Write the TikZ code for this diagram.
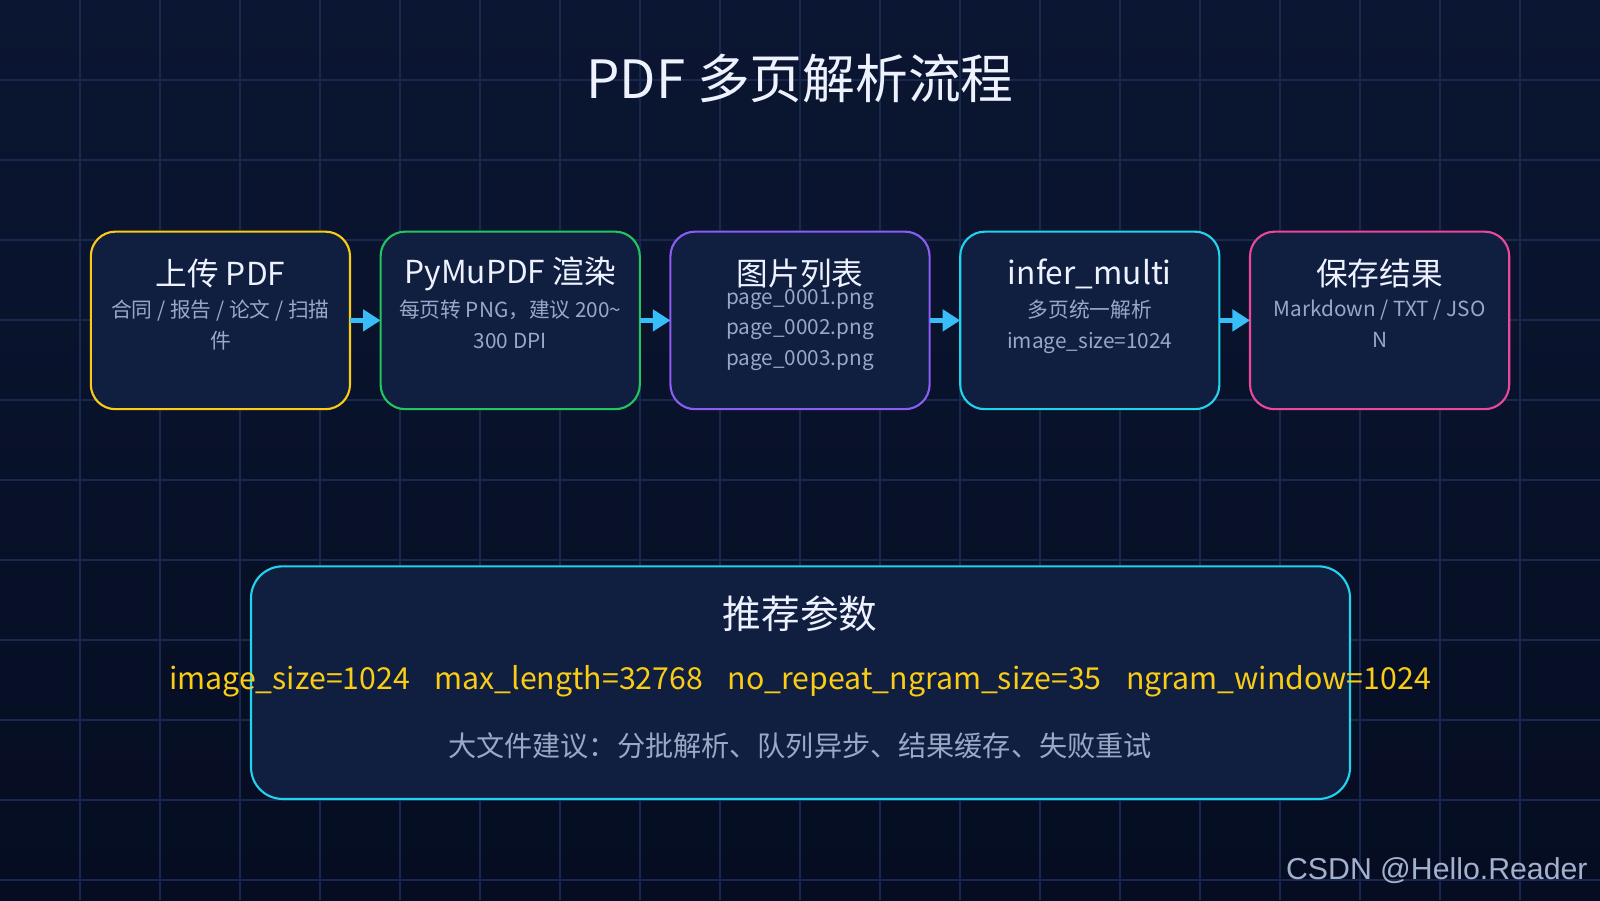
\documentclass[tikz,border=0pt]{standalone}
\usepackage{fontspec}
\setmainfont{Noto Sans CJK SC}
\newfontfamily\wmfont{Liberation Sans}
\usetikzlibrary{arrows.meta}
\definecolor{bgtop}{HTML}{0B1632}
\definecolor{bgbot}{HTML}{060D22}
\definecolor{gridc}{HTML}{17294F}
\definecolor{boxfill}{HTML}{101E40}
\definecolor{cy}{HTML}{FACC15}
\definecolor{cg}{HTML}{22C55E}
\definecolor{cp}{HTML}{8B5CF6}
\definecolor{cc}{HTML}{22D3EE}
\definecolor{cpk}{HTML}{EC4899}
\definecolor{ttl}{HTML}{EEF2FF}
\definecolor{sub}{HTML}{9AA8C7}
\definecolor{arr}{HTML}{38BDF8}
\begin{document}
\begin{tikzpicture}[x=0.0102cm,y=-0.0102cm,
  card/.style={line width=0.6pt, fill=boxfill, rounded corners=7pt},
  ttltext/.style={text=ttl, font=\fontsize{9}{11}\selectfont, anchor=center},
  subtext/.style={text=sub, font=\fontsize{5.9}{8.7}\selectfont, align=center, anchor=north},
  flow/.style={-{Triangle[length=5pt,width=6pt]}, draw=arr, line width=1.3pt}]
\useasboundingbox (0,0) rectangle (1568,882);
\shade[top color=bgtop, bottom color=bgbot] (0,0) rectangle (1568,882);
\foreach \i in {1,...,19} \draw[gridc, line width=0.5pt] (\i*78.4,0) -- (\i*78.4,882);
\foreach \i in {1,...,11} \draw[gridc, line width=0.5pt] (0,\i*78.4) -- (1568,\i*78.4);
\node[text=ttl, font=\fontsize{15}{18}\selectfont] (title) at (784,77) {PDF 多页解析流程};
% cards
\draw[card, draw=cy] (89,227) rectangle (343,401);
\draw[card, draw=cg] (373,227) rectangle (627,401);
\draw[card, draw=cp] (657,227) rectangle (911,401);
\draw[card, draw=cc] (941,227) rectangle (1195,401);
\draw[card, draw=cpk] (1225,227) rectangle (1479,401);
\coordinate (a1) at (343,314); \coordinate (a2) at (373,314);
\coordinate (a3) at (627,314); \coordinate (a4) at (657,314);
\coordinate (a5) at (911,314); \coordinate (a6) at (941,314);
\coordinate (a7) at (1195,314); \coordinate (a8) at (1225,314);
\draw[flow] (a1) -- (a2); \draw[flow] (a3) -- (a4);
\draw[flow] (a5) -- (a6); \draw[flow] (a7) -- (a8);
\node[ttltext] (t1) at (216,268) {上传 PDF};
\node[subtext] (s1) at (216,282) {合同 / 报告 / 论文 / 扫描\\件};
\node[ttltext] (t2) at (500,268) {PyMuPDF 渲染};
\node[subtext] (s2) at (500,282) {每页转 PNG，建议 200\char`~\\300 DPI};
\node[ttltext] (t3) at (784,268) {图片列表};
\node[subtext] (s3) at (784,271) {page\_0001.png\\page\_0002.png\\page\_0003.png};
\node[ttltext] (t4) at (1068,268) {infer\_multi};
\node[subtext] (s4) at (1068,282) {多页统一解析\\image\_size=1024};
\node[ttltext] (t5) at (1352,268) {保存结果};
\node[subtext] (s5) at (1352,282) {Markdown / TXT / JSO\\N};
% bottom
\draw[card, draw=cc, rounded corners=9pt] (246,555) rectangle (1323,783);
\node[text=ttl, font=\fontsize{11}{13}\selectfont] (pt) at (784,601) {推荐参数};
\node[text=cy, font=\fontsize{8.6}{11}\selectfont] (pp) at (784,668) {image\_size=1024\hspace{7pt}max\_length=32768\hspace{7pt}no\_repeat\_ngram\_size=35\hspace{7pt}ngram\_window=1024};
\node[text=sub, font=\fontsize{8}{10}\selectfont] (pn) at (784,731) {大文件建议：分批解析、队列异步、结果缓存、失败重试};
\node[text=sub!90!white, font=\wmfont\fontsize{8.6}{10}\selectfont, anchor=east] (wm) at (1568,853) {CSDN @Hello.Reader};
\end{tikzpicture}
\end{document}
